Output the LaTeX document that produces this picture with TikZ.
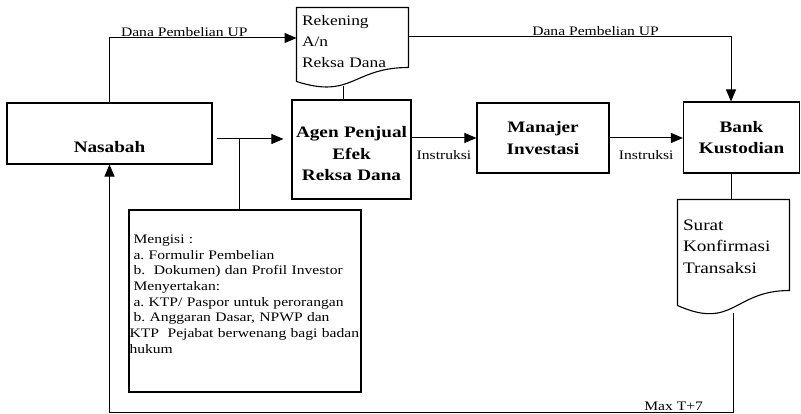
\documentclass[tikz,border=0pt]{standalone}
\usepackage{fontspec}
\setmainfont{Liberation Serif}[FakeStretch=1.2]
\usetikzlibrary{arrows.meta, positioning, calc}
\frenchspacing

\begin{document}
\begin{tikzpicture}[x=1pt, y=1pt, >={Triangle[length=12pt,width=10pt]},
line width=1pt,
process/.style={
draw,
line width=1.1pt,
align=center,
font=\fontsize{16}{21.5}\selectfont\bfseries
},
docsheet/.style={
align=left,
inner xsep=5pt,
text width=101pt,
minimum width=111pt
},
flow label/.style={
font=\fontsize{13}{15}\selectfont,
inner sep=1pt
}
]

\useasboundingbox (0,0) rectangle (801,414);

\node[process, minimum width=205pt, minimum height=61pt, text height=37.6pt, text depth=0pt] (nasabah) at (109.5,280.5) {Nasabah};
\node[docsheet, minimum height=78pt, text height=10pt, text depth=52pt, font=\fontsize{14.5}{21}\selectfont] (rekening) at (352.5,367) {Rekening\\A/n\\Reksa Dana};
\node[process, minimum width=119pt, minimum height=99pt, inner xsep=0.5pt, text width=118pt, text height=11pt, text depth=34pt] (agen) at (351.5,264.5) {Agen Penjual\\Efek\\Reksa Dana};
\node[process, minimum width=132pt, minimum height=70pt] (manajer) at (543,276) {Manajer\\Investasi};
\node[process, minimum width=116pt, minimum height=71pt] (bank) at (741.5,276.5) {Bank\\Kustodian};
\node[docsheet, minimum height=113pt, text height=11pt, text depth=63pt, font=\fontsize{16}{21.5}\selectfont] (surat) at (733.5,157.5) {Surat\\Konfirmasi\\Transaksi};
\node[draw, line width=1.1pt, minimum width=232pt, minimum height=182pt, inner xsep=0.5pt, text width=231pt, align=left, text height=9pt, text depth=124pt, font=\fontsize{13}{15.7}\selectfont] (mengisi) at (245,113) {\hspace*{4pt}Mengisi :\\
\hspace*{4pt}a. Formulir Pembelian\\
\hspace*{4pt}b.\ \ Dokumen) dan Profil Investor\\
\hspace*{4pt}Menyertakan:\\
\hspace*{4pt}a. KTP/ Paspor untuk perorangan\\
\hspace*{4pt}b. Anggaran Dasar, NPWP dan\\
KTP\ \ Pejabat berwenang bagi badan\\
hukum};

\draw[line width=1.1pt] (rekening.north west) -- (rekening.north east) -- ([yshift=19pt]rekening.south east) .. controls ([yshift=19pt]rekening.south) and ([yshift=-13pt]rekening.south) .. ([yshift=5pt]rekening.south west) -- cycle;
\draw[line width=1.1pt] (surat.north west) -- (surat.north east) -- ([yshift=23pt]surat.south east) .. controls ([yshift=23pt]surat.south) and ([yshift=-17pt]surat.south) .. ([yshift=8pt]surat.south west) -- cycle;

\coordinate (fork) at ([xshift=-52pt, yshift=10.5pt]agen.west);
\coordinate (ret) at ([yshift=-99pt]surat.south);

\draw[->] (nasabah.north) |- ([yshift=9pt]rekening.west) node[flow label, above, pos=0.7] {Dana Pembelian UP};
\draw[->] ([yshift=10pt]rekening.east) -| ([xshift=-10.5pt]bank.north) node[flow label, above, pos=0.29] {Dana Pembelian UP};
\draw ([xshift=-8pt]agen.north) -- ([xshift=-8pt]agen.north |- rekening.south);

\draw[->, shorten >=8pt] ([xshift=4pt]nasabah.east |- fork) -- (fork -| agen.west);
\draw (fork) -- (fork |- mengisi.north);

\draw[->] (agen.east |- manajer.west) -- (manajer.west) node[flow label, below=11pt, midway] {Instruksi};
\draw[->] (manajer.east) -- (manajer.east -| bank.west) node[flow label, below=11pt, midway] {Instruksi};

\draw ([xshift=-2.5pt]surat.north) -- ([xshift=-2.5pt]surat.north |- bank.south);
\draw[->] (surat.south) -- (ret) -| (nasabah.south) node[flow label, above, pos=0.048] {Max T+7};

\end{tikzpicture}
\end{document}
